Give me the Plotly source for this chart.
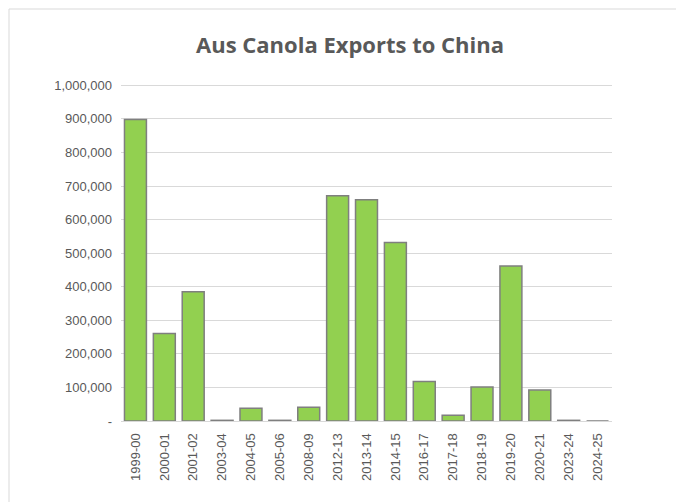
import plotly.graph_objects as go

seasons = ["1999-00","2000-01","2001-02","2003-04","2004-05","2005-06","2008-09","2012-13",
           "2013-14","2014-15","2016-17","2017-18","2018-19","2019-20","2020-21","2023-24","2024-25"]
exports = [898000,261000,385000,2000,38000,2000,41000,671000,659000,532000,118000,17000,101000,
           462000,92000,2000,0]
tick_vals = [0,100000,200000,300000,400000,500000,600000,700000,800000,900000,1000000]
tick_text = ["-","100,000","200,000","300,000","400,000","500,000","600,000","700,000","800,000","900,000","1,000,000"]

fig = go.Figure(go.Bar(x=seasons, y=exports, marker=dict(color="#92D050", line=dict(color="#7F7F7F", width=1.5))))
fig.update_layout(
    width=684, height=502, paper_bgcolor="white", plot_bgcolor="white",
    margin=dict(l=113, r=80, t=76, b=89),
    title=dict(text="<b>Aus Canola Exports to China</b>", x=0.5, xanchor="center", y=0.925, yanchor="middle",
               font=dict(family="Open Sans", size=22, color="#595959")),
    font=dict(family="Liberation Sans", size=13, color="#595959"),
    showlegend=False, bargap=0.24,
)
fig.update_yaxes(range=[0,1004000], tickvals=tick_vals, ticktext=tick_text, showgrid=True,
                 gridcolor="#D9D9D9", gridwidth=1, zeroline=False, ticks="", ticklabelstandoff=8)
fig.update_xaxes(type="category", tickangle=-90, showline=True, linecolor="#D9D9D9", ticks="", ticklabelstandoff=6)
fig.add_shape(type="rect", xref="paper", yref="paper", x0=-112/491, x1=1+78/491, y0=-87/337, y1=1+75/337,
              line=dict(color="#D9D9D9", width=1))
fig.write_html("out.html")
